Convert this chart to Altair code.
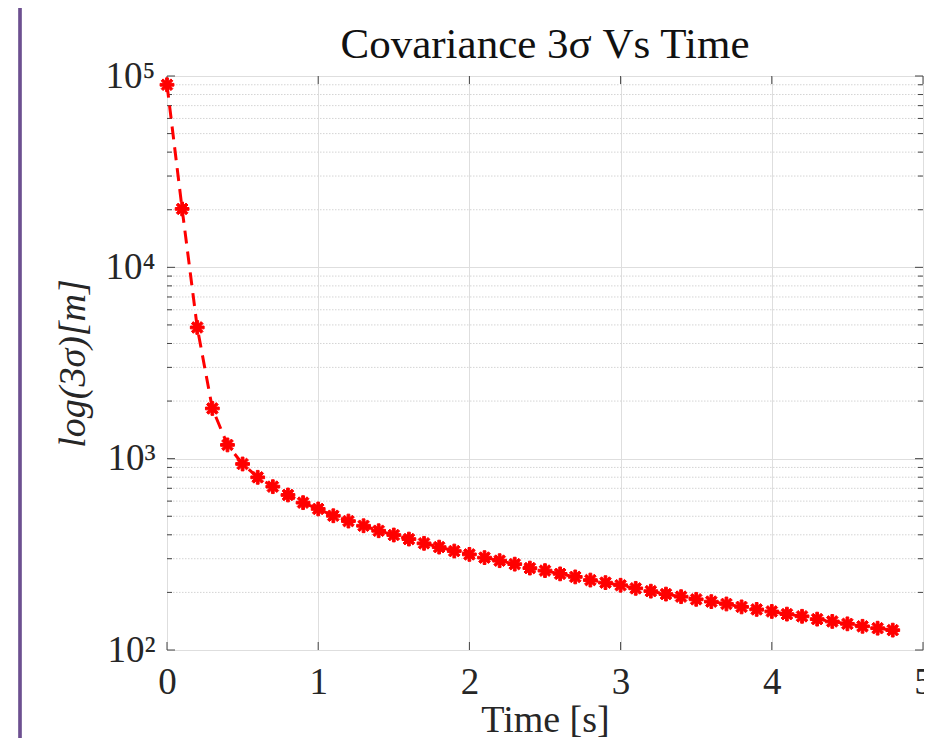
import math
import altair as alt
import pandas as pd

# ---- data ----
time_s = [0.0, 0.1, 0.2, 0.3, 0.4, 0.5, 0.6, 0.7, 0.8, 0.9,
          1.0, 1.1, 1.2, 1.3, 1.4, 1.5, 1.6, 1.7, 1.8, 1.9,
          2.0, 2.1, 2.2, 2.3, 2.4, 2.5, 2.6, 2.7, 2.8, 2.9,
          3.0, 3.1, 3.2, 3.3, 3.4, 3.5, 3.6, 3.7, 3.8, 3.9,
          4.0, 4.1, 4.2, 4.3, 4.4, 4.5, 4.6, 4.7, 4.8]
sigma3 = [90000, 20200, 4850, 1830, 1180, 938, 799, 714, 646, 589,
          546, 503, 472, 446, 420, 399, 380, 361, 345, 329,
          316, 304, 293, 281, 268, 260, 250, 241, 232, 225,
          218, 210, 203, 196, 190, 184, 179, 174, 168, 163,
          159, 154, 150, 145, 141, 137, 133, 130, 127]

x_ticks = [0, 1, 2, 3, 4, 5]
y_major = [100, 1000, 10000, 100000]
y_minor = [m * d for d in (100, 1000, 10000) for m in range(2, 10)]

title_text = "Covariance 3σ Vs Time"
x_title = "Time [s]"
y_title = "log(3σ)[m]"

W, H = 756, 574
FONT = "Liberation Serif"
GRID = "#dedede"
TICK = "#444444"

df = pd.DataFrame({"t": time_s, "s": sigma3})
major_df = pd.DataFrame({"s": y_major})
minor_df = pd.DataFrame({"s": y_minor})
xt_df = pd.DataFrame({"t": x_ticks})


def asterisk(w=0.2):
    parts = []
    for ang in (0, 45, 90, 135):
        a = math.radians(ang)
        dx, dy = math.cos(a), math.sin(a)
        px, py = -dy * w, dx * w
        pts = [(dx + px, dy + py), (dx - px, dy - py),
               (-dx - px, -dy - py), (-dx + px, -dy + py)]
        parts.append("M" + "L".join(f"{x:.3f},{y:.3f}" for x, y in pts) + "Z")
    return "".join(parts)


xscale = alt.Scale(domain=[0, 5], nice=False, zero=False)
yscale = alt.Scale(type="log", domain=[100, 100000], nice=False)

label_expr = ("datum.value == 100 ? '10²' : datum.value == 1000 ? '10³' : "
              "datum.value == 10000 ? '10⁴' : '10⁵'")

xaxis = alt.Axis(values=x_ticks, format="d", grid=True, gridColor=GRID, gridWidth=1,
                 domain=False, ticks=False, labelFlush=False,
                 labelFont=FONT, labelFontSize=37, labelColor="#262626", labelPadding=14,
                 title=x_title, titleFont=FONT, titleFontSize=38, titleFontWeight="normal",
                 titleColor="#262626", titlePadding=1)
yaxis = alt.Axis(values=y_major, labelExpr=label_expr, grid=True, gridColor=GRID, gridWidth=1,
                 domain=False, ticks=False,
                 labelFont=FONT, labelFontSize=37, labelColor="#262626", labelPadding=12,
                 title=y_title, titleFont=FONT, titleFontSize=38, titleFontStyle="italic",
                 titleFontWeight="normal", titleColor="#262626", titlePadding=13)

X = lambda: alt.X("t:Q", scale=xscale, axis=xaxis)
Y = lambda: alt.Y("s:Q", scale=yscale, axis=yaxis)

base = alt.Chart(df)

minor_grid = alt.Chart(minor_df).mark_rule(color="#d4d4d4", strokeWidth=1, strokeDash=[1.5, 1.5]).encode(
    y=Y(), x=alt.value(0), x2=alt.value(W))

yt_major_l = alt.Chart(major_df).mark_rule(color=TICK, strokeWidth=1).encode(
    y=Y(), x=alt.value(0), x2=alt.value(8))
yt_minor_l = alt.Chart(minor_df).mark_rule(color=TICK, strokeWidth=1).encode(
    y=Y(), x=alt.value(0), x2=alt.value(5))
yt_major_r = alt.Chart(major_df).mark_rule(color=TICK, strokeWidth=1).encode(
    y=Y(), x=alt.value(W - 8), x2=alt.value(W))
yt_minor_r = alt.Chart(minor_df).mark_rule(color=TICK, strokeWidth=1).encode(
    y=Y(), x=alt.value(W - 5), x2=alt.value(W))
xt_bot = alt.Chart(xt_df).mark_rule(color=TICK, strokeWidth=1).encode(
    x=X(), y=alt.value(H - 8), y2=alt.value(H))
xt_top = alt.Chart(xt_df).mark_rule(color=TICK, strokeWidth=1).encode(
    x=X(), y=alt.value(0), y2=alt.value(8))

line = base.mark_line(color="#ff0000", strokeWidth=3, strokeDash=[13, 8]).encode(x=X(), y=Y())
pts = base.mark_point(shape=asterisk(), filled=True, color="#ff0000", size=190,
                      opacity=1, stroke="#ff0000", strokeWidth=1.0, strokeJoin="round").encode(
    x=X(), y=Y())

# purple frame edge of the screenshot, left of the figure
frame_line = alt.Chart(xt_df).mark_rule(color="#6e4f91", strokeWidth=2.5).encode(
    x=alt.value(-147), y=alt.value(-76), y2=alt.value(680))

chart = alt.layer(
    minor_grid, yt_major_l, yt_minor_l, yt_major_r, yt_minor_r, xt_bot, xt_top,
    line, pts, frame_line
).properties(
    width=W, height=H,
    title=alt.TitleParams(title_text, font=FONT, fontSize=43, fontWeight="normal",
                          color="#111111", anchor="middle", frame="group",
                          baseline="alphabetic", offset=-102),
    autosize=alt.AutoSizeParams(type="none"),
    padding={"left": 159, "top": 68, "right": 1, "bottom": 88},
).configure_view(stroke="#555555", strokeWidth=1.5).configure(background="white")

chart.save("out.html", embed_options={"renderer": "svg", "actions": False})
